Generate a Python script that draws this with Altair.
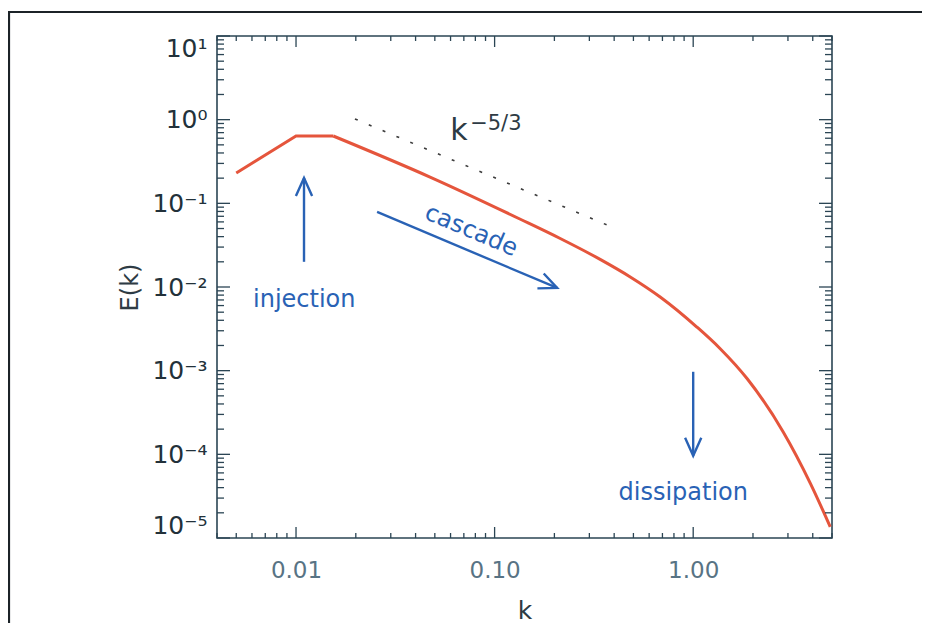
import altair as alt
import pandas as pd

# ---------------- data ----------------
k_rise = [0.005, 0.01, 0.0154]
E_rise = [0.231, 0.638, 0.638]

k_curve = [0.0154, 0.0473, 0.134, 0.214, 0.340, 0.482, 0.682, 1.047, 1.368, 1.871, 2.84, 3.89, 4.90]
E_curve = [0.638, 0.206, 0.065, 0.038, 0.0214, 0.0132, 0.0076, 0.0033, 0.00183, 0.00080, 0.000185, 4.5e-5, 1.36e-5]

k_ref = [0.0198, 0.369]          # dotted k^-5/3 guide
E_ref = [1.02, 0.055]

arrow_k0 = [0.01097, 0.0256, 1.0]
arrow_E0 = [0.020, 0.0789, 9.7e-4]
arrow_k1 = [0.01097, 0.2065, 1.0]
arrow_E1 = [0.201, 0.00975, 9.6e-5]
arrow_angle = [0, 112.9, 180]

label_text = ["injection", "dissipation"]
label_k = [0.011, 0.891]
label_E = [0.00578, 2.86e-5]

x_major = [0.01, 0.1, 1.0]
x_minor = [0.004, 0.005, 0.006, 0.007, 0.008, 0.009,
           0.02, 0.03, 0.04, 0.05, 0.06, 0.07, 0.08, 0.09,
           0.2, 0.3, 0.4, 0.5, 0.6, 0.7, 0.8, 0.9,
           2.0, 3.0, 4.0, 5.0]
y_major = [1e-5, 1e-4, 1e-3, 1e-2, 1e-1, 1e0, 1e1]
y_minor = [m * 10.0 ** p for p in range(-5, 1) for m in range(2, 10)]

# ---------------- styling ----------------
W, H = 615, 502
FONT = "DejaVu Sans"
AXC = "#2b4554"
RED = "#e5553c"
BLUE = "#2962b5"

xs = alt.Scale(type="log", domain=[0.004, 5], nice=False)
ys = alt.Scale(type="log", domain=[1e-5, 10], nice=False)

sup = {1: "¹", 0: "⁰", -1: "⁻¹", -2: "⁻²", -3: "⁻³", -4: "⁻⁴", -5: "⁻⁵"}
r = "round(log(datum.value)/LN10)"
ylab_expr = "'10' + (" + " : ".join(f"{r}=={e} ? '{s}'" for e, s in sup.items()) + " : '')"

XAX = alt.Axis(values=x_major, labelExpr="format(datum.value, '.2f')", ticks=False,
               domain=False, grid=False, labelFontSize=23, labelColor="#587384",
               labelPadding=21, title="k", titleFontSize=25, titleColor="#2e3b44",
               titleFontWeight="normal", titlePadding=16, labelFont=FONT, titleFont=FONT)
YAX = alt.Axis(values=y_major, labelExpr=ylab_expr, ticks=False, domain=False,
               grid=False, labelFontSize=25, labelColor="#22313a", labelPadding=10,
               labelFlush=True,
               title="E(k)", titleFontSize=24, titleColor="#2e3b44", titleFontWeight="normal",
               titlePadding=9, labelFont=FONT, titleFont=FONT)


def X(f):
    return alt.X(f, scale=xs, axis=XAX, title="k")


def Y(f):
    return alt.Y(f, scale=ys, axis=YAX, title="E(k)")


rise_df = pd.DataFrame({"k": k_rise, "E": E_rise})
curve_df = pd.DataFrame({"k": k_curve, "E": E_curve})
ref_df = pd.DataFrame({"k": k_ref, "E": E_ref})
arr_df = pd.DataFrame({"k0": arrow_k0, "E0": arrow_E0, "k1": arrow_k1, "E1": arrow_E1, "ang": arrow_angle})
lab_df = pd.DataFrame({"k": label_k, "E": label_E, "t": label_text})
one = pd.DataFrame({"a": [0]})

frame = alt.Chart(one).mark_rect(fill=None, stroke="#1c2328", strokeWidth=2.2).encode(
    x=alt.value(-208), x2=alt.value(W + 300), y=alt.value(-24), y2=alt.value(H + 300)
)

rise = alt.Chart(rise_df).mark_line(color=RED, strokeWidth=3).encode(x=X("k:Q"), y=Y("E:Q"))
curve = alt.Chart(curve_df).mark_line(color=RED, strokeWidth=3, interpolate="monotone").encode(
    x=X("k:Q"), y=Y("E:Q"))

ref = alt.Chart(ref_df).mark_line(color="#3c3c3c", strokeWidth=1.6, strokeDash=[3, 12]).encode(
    x=X("k:Q"), y=Y("E:Q"))


def tick_layer(vals, length, orient):
    df = pd.DataFrame({"v": vals})
    base = alt.Chart(df).mark_rule(color=AXC, strokeWidth=1.3)
    if orient == "bottom":
        return base.encode(x=X("v:Q"), y=alt.value(H), y2=alt.value(H - length))
    if orient == "top":
        return base.encode(x=X("v:Q"), y=alt.value(0), y2=alt.value(length))
    if orient == "left":
        return base.encode(y=Y("v:Q"), x=alt.value(0), x2=alt.value(length))
    return base.encode(y=Y("v:Q"), x=alt.value(W), x2=alt.value(W - length))


ticks = [
    tick_layer(x_major, 11, "bottom"), tick_layer(x_minor, 5, "bottom"),
    tick_layer(x_major, 11, "top"), tick_layer(x_minor, 5, "top"),
    tick_layer(y_major, 13, "left"), tick_layer(y_minor, 7, "left"),
    tick_layer(y_major, 13, "right"), tick_layer(y_minor, 7, "right"),
]

shafts = alt.Chart(arr_df).mark_rule(color=BLUE, strokeWidth=2.4).encode(
    x=X("k0:Q"), y=Y("E0:Q"), x2="k1:Q", y2="E1:Q")
heads = alt.Chart(arr_df).mark_point(shape="M-0.45,1L0,0L0.45,1", filled=False, color=BLUE,
                                     strokeWidth=2.4, opacity=1, size=1296).encode(
    x=X("k1:Q"), y=Y("E1:Q"), angle=alt.Angle("ang:Q", scale=None))

labels = alt.Chart(lab_df).mark_text(color=BLUE, fontSize=24, font=FONT, align="center",
                                     baseline="alphabetic").encode(
    x=X("k:Q"), y=Y("E:Q"), text="t:N")
cascade = alt.Chart(pd.DataFrame({"k": [0.0762], "E": [0.0468], "t": ["cascade"]})).mark_text(
    color=BLUE, fontSize=24, font=FONT, align="center", baseline="middle", angle=23).encode(
    x=X("k:Q"), y=Y("E:Q"), text="t:N")
kchar = alt.Chart(pd.DataFrame({"k": [0.0662], "E": [0.572], "t": ["k"]})).mark_text(
    color="#2e3b44", fontSize=30, font=FONT, align="center", baseline="alphabetic").encode(
    x=X("k:Q"), y=Y("E:Q"), text="t:N")
kexp = alt.Chart(pd.DataFrame({"k": [0.0753], "E": [0.753], "t": ["−5/3"]})).mark_text(
    color="#2e3b44", fontSize=21, font=FONT, align="left", baseline="alphabetic").encode(
    x=X("k:Q"), y=Y("E:Q"), text="t:N")

chart = alt.layer(frame, rise, curve, *ticks, ref, shafts, heads, labels, cascade, kchar, kexp).properties(
    width=W, height=H,
    padding={"left": 209, "top": 28, "right": 90, "bottom": 85},
    autosize=alt.AutoSizeParams(type="none"),
    background="white",
).configure_view(stroke=AXC, strokeWidth=1.6)

chart.save("out.html", embed_options={"renderer": "svg", "actions": False})
